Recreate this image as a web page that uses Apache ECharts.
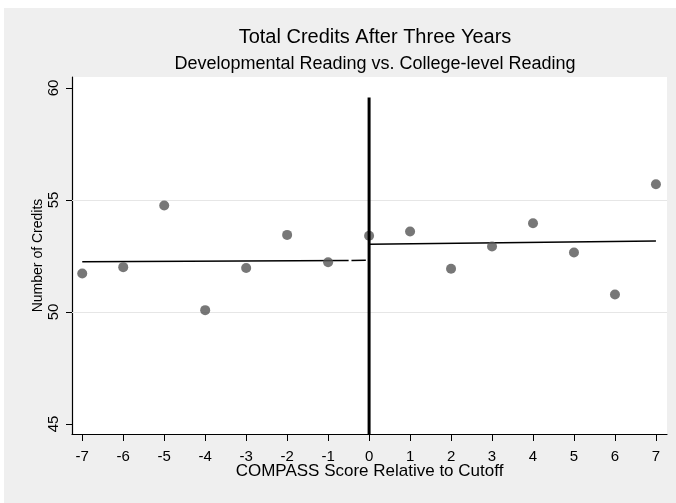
<!DOCTYPE html>
<html>
<head>
<meta charset="utf-8">
<script src="https://cdn.jsdelivr.net/npm/echarts@6/dist/echarts.min.js"></script>
<style>
html,body{margin:0;padding:0;background:#ffffff;}
#chart{width:676px;height:503px;}
</style>
</head>
<body>
<div id="chart"></div>
<script>
// ---- data ----
const scores = [-7, -6, -5, -4, -3, -2, -1, 0, 1, 2, 3, 4, 5, 6, 7];
const credits = [51.72, 52.00, 54.75, 50.08, 51.96, 53.44, 52.22, 53.40, 53.59, 51.93, 52.92, 53.96, 52.65, 50.78, 55.70];
const leftFitX = [-7, -0.5];
const leftFitY = [52.24, 52.30];
const leftDashX = [-0.43, -0.08];
const leftDashY = [52.30, 52.31];
const rightFitX = [0, 7];
const rightFitY = [53.02, 53.17];
const cutoffX = [0, 0];
const cutoffY = [44.55, 59.58];
const xTickValues = [-7, -6, -5, -4, -3, -2, -1, 0, 1, 2, 3, 4, 5, 6, 7];
const yTickValues = [45, 50, 55, 60];
const yGridValues = [50, 55];

const FONT = "'Liberation Sans', Arial, sans-serif";
const zip = (xs, ys) => xs.map((x, i) => [x, ys[i]]);

const chart = echarts.init(document.getElementById('chart'), null, {renderer: 'canvas'});
chart.setOption({
  animation: false,
  backgroundColor: '#ffffff',
  graphic: [{
    type: 'rect', z: -10, silent: true,
    shape: {x: 4, y: 8, width: 672, height: 495},
    style: {fill: '#efefef'}
  }, {
    type: 'rect', z: -9, silent: true,
    shape: {x: 72, y: 77, width: 595, height: 357},
    style: {fill: '#ffffff'}
  }],
  title: [{
    text: 'Total Credits After Three Years',
    left: 370, top: 22, textAlign: 'center',
    textStyle: {fontFamily: FONT, fontSize: 20, fontWeight: 'normal', color: '#000'}
  }, {
    text: 'Developmental Reading vs. College-level Reading',
    left: 370, top: 50, textAlign: 'center',
    textStyle: {fontFamily: FONT, fontSize: 18, fontWeight: 'normal', color: '#000'}
  }],
  grid: {left: 72, right: 9, top: 77, bottom: 69, containLabel: false, outerBoundsMode: 'none'},
  xAxis: {
    type: 'value', min: -7.25, max: 7.27,
    name: 'COMPASS Score Relative to Cutoff',
    nameLocation: 'middle', nameGap: 29, nameMoveOverlap: false,
    nameTextStyle: {fontFamily: FONT, fontSize: 17, color: '#000'},
    axisLine: {show: true, onZero: false, lineStyle: {color: '#000', width: 1.2}},
    axisTick: {show: true, length: 7, customValues: xTickValues, lineStyle: {color: '#000', width: 1}},
    axisLabel: {customValues: xTickValues, margin: 15, fontFamily: FONT, fontSize: 15, color: '#000'},
    splitLine: {show: false}
  },
  yAxis: {
    type: 'value', min: 44.55, max: 60.49,
    name: 'Number of Credits',
    nameLocation: 'middle', nameGap: 27, nameMoveOverlap: false,
    nameTextStyle: {fontFamily: FONT, fontSize: 14, color: '#000'},
    axisLine: {show: true, onZero: false, lineStyle: {color: '#000', width: 1.2}},
    axisTick: {show: true, length: 6, customValues: yTickValues, lineStyle: {color: '#000', width: 1}},
    axisLabel: {customValues: yTickValues, rotate: 90, margin: 11, fontFamily: FONT, fontSize: 15, color: '#000'},
    splitLine: {show: false}
  },
  series: [{
    type: 'line', silent: true, symbol: 'none', z: 1,
    data: [],
    markLine: {
      silent: true, symbol: 'none', label: {show: false},
      lineStyle: {color: '#e6e6e6', width: 1, type: 'solid'},
      data: yGridValues.map(v => ({yAxis: v}))
    }
  }, {
    type: 'line', silent: true, symbol: 'none', z: 3,
    data: zip(leftFitX, leftFitY),
    lineStyle: {color: '#000', width: 1.4}
  }, {
    type: 'line', silent: true, symbol: 'none', z: 3,
    data: zip(leftDashX, leftDashY),
    lineStyle: {color: '#000', width: 1.4}
  }, {
    type: 'line', silent: true, symbol: 'none', z: 3,
    data: zip(rightFitX, rightFitY),
    lineStyle: {color: '#000', width: 1.4}
  }, {
    type: 'scatter', silent: true, z: 5,
    symbol: 'circle', symbolSize: 10,
    itemStyle: {color: '#555555'},
    data: zip(scores, credits)
  }, {
    type: 'line', silent: true, symbol: 'none', z: 6,
    data: zip(cutoffX, cutoffY),
    lineStyle: {color: '#000', width: 3}
  }]
});
</script>
</body>
</html>
